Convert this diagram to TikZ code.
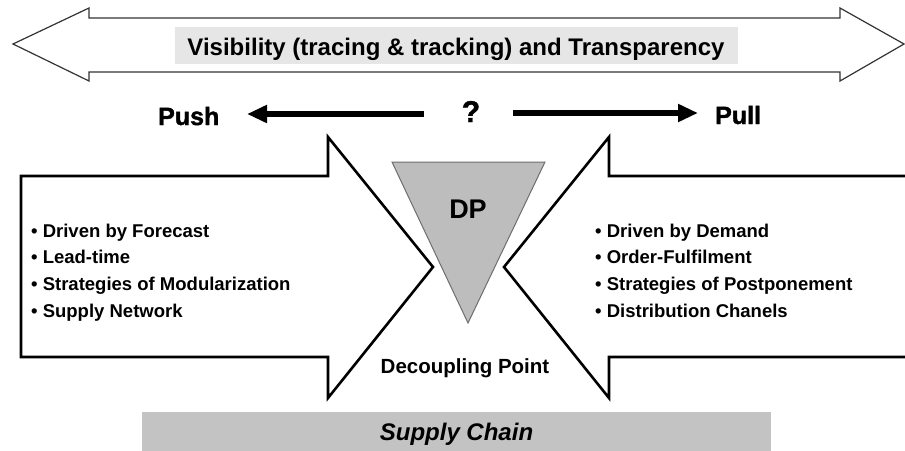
\documentclass[tikz,border=0pt]{standalone}
\usepackage{fontspec}
\setmainfont{Liberation Sans}
\newfontfamily\heavyfont{Liberation Sans}[UprightFont={* Bold},UprightFeatures={FakeBold=1.5}]
\usetikzlibrary{arrows.meta}
\definecolor{outlinegray}{HTML}{333333}
\definecolor{boxgray}{HTML}{E6E6E6}
\definecolor{trigray}{HTML}{BDBDBD}
\definecolor{trioutline}{HTML}{6E6E6E}
\definecolor{bargray}{HTML}{C3C3C3}
\tikzset{
  listitem/.style={anchor=base west,inner sep=0pt,font=\bfseries\fontsize{18.5}{22}\selectfont},
  bigarrow/.style={draw=black,line width=2.6pt,line join=miter,fill=white},
  pparrow/.style={line width=5.5pt,-{Triangle[length=20pt,width=17pt]}},
  heavylabel/.style={inner sep=0pt,font=\heavyfont\fontsize{25}{30}\selectfont}
}
\begin{document}
\begin{tikzpicture}[x=1pt,y=-1pt]
\useasboundingbox (0,0) rectangle (905,450);
% top double arrow
\draw[outlinegray,line width=1.2pt,line join=miter,fill=white]
  (13,44) -- (89,8) -- (89,18) -- (840,18) -- (840,8) -- (904,44)
  -- (840,81) -- (840,72) -- (89,72) -- (89,81) -- cycle;
\fill[boxgray] (175,27) rectangle (738,64);
\node[anchor=base,inner sep=0pt,font=\bfseries\fontsize{24}{28}\selectfont] (vis) at (456,55)
  {Visibility (tracing \& tracking) and Transparency};
% push / pull
\node[heavylabel,anchor=base west] (push) at (158,125) {Push};
\node[heavylabel,anchor=base west] (pull) at (715,124) {Pull};
\node[inner sep=0pt,anchor=base,font=\heavyfont\fontsize{30}{34}\selectfont] (q) at (471,122) {?};
\coordinate (pushS) at (424,114);
\coordinate (pushE) at (247,114);
\coordinate (pullS) at (513,113);
\coordinate (pullE) at (698,113);
\draw[pparrow] (pushS) -- (pushE);
\draw[pparrow] (pullS) -- (pullE);
% big arrows
\draw[bigarrow] (21,176) -- (328,176) -- (328,137) -- (433,267) -- (328,398) -- (328,357) -- (21,357) -- cycle;
\fill[white] (504,267) -- (609,137) -- (609,176) -- (906,176) -- (906,357) -- (609,357) -- (609,398) -- cycle;
\draw[black,line width=2.6pt,line join=miter] (906,176) -- (609,176) -- (609,137) -- (504,267) -- (609,398) -- (609,357) -- (906,357);
% decoupling point triangle
\draw[trioutline,fill=trigray,line width=1pt,line join=miter] (392,162) -- (545,162) -- (468,323) -- cycle;
\node[anchor=base,inner sep=0pt,font=\bfseries\fontsize{27}{30}\selectfont] (dp) at (468,218) {DP};
\node[anchor=base,inner sep=0pt,font=\bfseries\fontsize{20.5}{24}\selectfont] (dcp) at (465,373) {Decoupling Point};
% lists
\node[listitem] (l1) at (31,237) {• Driven by Forecast};
\node[listitem] (l2) at (31,263.5) {• Lead-time};
\node[listitem] (l3) at (31,290) {• Strategies of Modularization};
\node[listitem] (l4) at (31,317) {• Supply Network};
\node[listitem] (r1) at (595,237) {• Driven by Demand};
\node[listitem] (r2) at (595,263.5) {• Order-Fulfilment};
\node[listitem] (r3) at (595,290) {• Strategies of Postponement};
\node[listitem] (r4) at (595,317) {• Distribution Chanels};
% supply chain bar
\fill[bargray] (142,412) rectangle (771,451);
\node[anchor=base,inner sep=0pt,font=\bfseries\itshape\fontsize{24}{28}\selectfont] (sc) at (456.5,440) {Supply Chain};
\end{tikzpicture}
\end{document}
